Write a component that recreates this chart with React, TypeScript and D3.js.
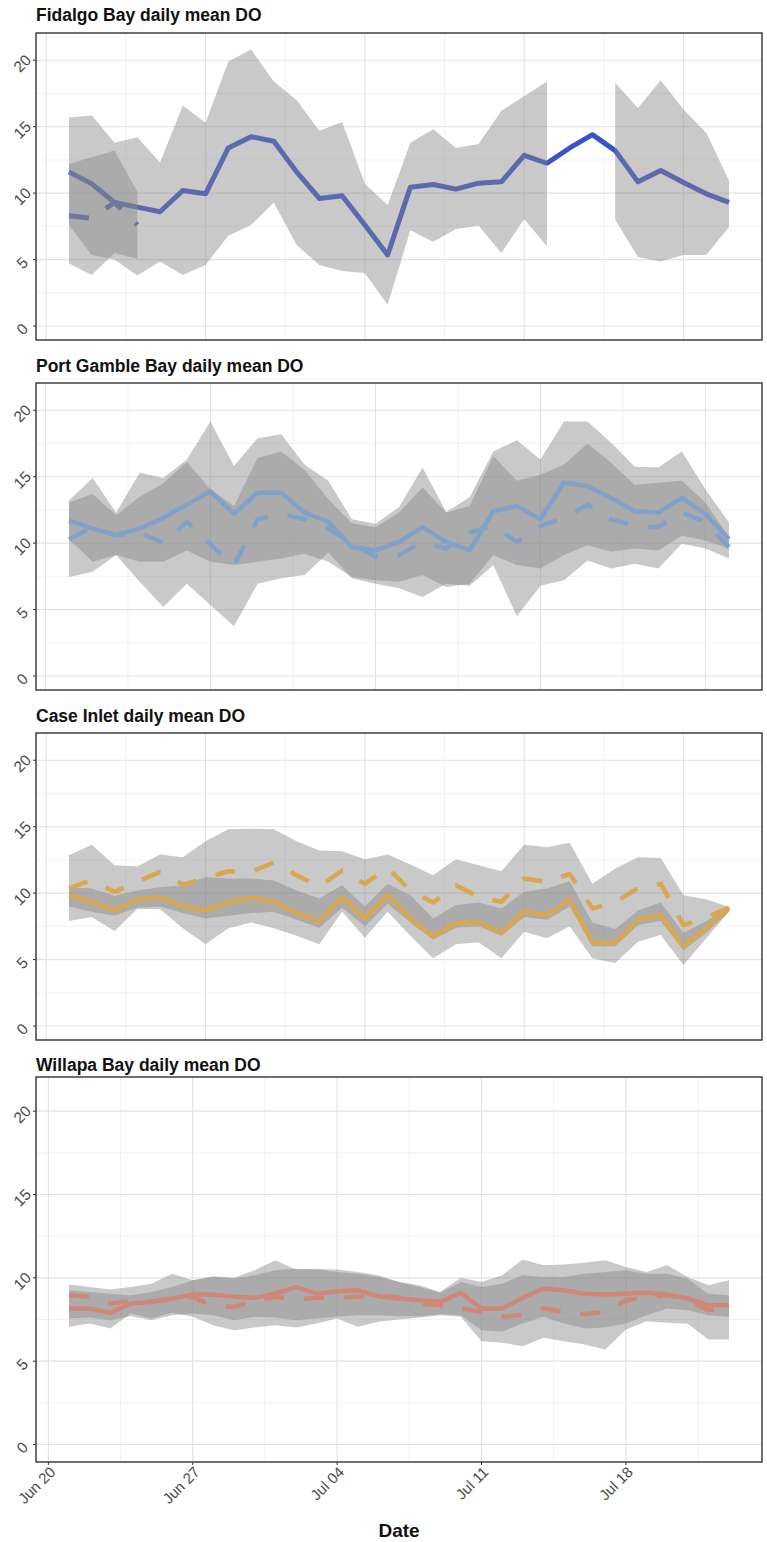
import React from "react";
import * as d3 from "d3";

// daily series start on Jun 21
const START = Date.UTC(2022, 5, 21);
const DAY = 864e5;

const Y_LIMITS = [0, 21];
const Y_MAJOR = [0, 5, 10, 15, 20];
const Y_MINOR = [2.5, 7.5, 12.5, 17.5];
const X_MAJOR = ["2022-06-20", "2022-06-27", "2022-07-04", "2022-07-11", "2022-07-18"];

// Fidalgo Bay (Jun 21 - Jul 20)
const fidalgoMean = [11.6, 10.7, 9.3, 8.95, 8.6, 10.2, 9.95, 13.4, 14.25, 13.9, 11.6, 9.6, 9.8, 7.6, 5.35,
  10.45, 10.65, 10.3, 10.75, 10.85, 12.85, 12.25, 13.4, 14.4, 13.2, 10.85, 11.7, 10.8, 9.95, 9.3];
const fidalgoHi = [15.7, 15.85, 13.8, 14.2, 12.3, 16.6, 15.3, 19.9, 20.8, 18.4, 17.0, 14.7, 15.35, 10.7, 9.1,
  13.8, 14.8, 13.4, 13.7, 16.2, 17.3, 18.4, null, null, 18.3, 16.4, 18.5, 16.3, 14.55, 10.95];
const fidalgoLo = [7.6, 5.35, 5.0, 3.8, 4.85, 3.85, 4.6, 6.8, 7.6, 9.3, 6.1, 4.6, 4.15, 4.0, 1.6,
  7.2, 6.35, 7.3, 7.55, 5.5, 8.05, 6.0, null, null, 8.0, 5.2, 4.85, 5.35, 5.35, 7.45];
const fidalgoMean2 = [8.3, 8.1, 9.3, 7.6];
const fidalgoHi2 = [12.2, 12.7, 13.2, 10.1];
const fidalgoLo2 = [4.7, 3.85, 5.5, 5.05];

// Port Gamble Bay (Jun 21 - Jul 19)
const gambleSolid = [11.7, 11.1, 10.6, 11.1, 11.9, 12.9, 13.9, 12.2, 13.8, 13.8, 12.3, 11.6, 9.7, 9.45, 10.1,
  11.2, 10.1, 9.45, 12.4, 12.8, 11.8, 14.55, 14.3, 13.4, 12.4, 12.3, 13.4, 12.2, 10.3];
const gambleDashed = [10.3, 11.2, 10.6, 10.8, 10.0, 11.6, 9.9, 8.3, 11.8, 12.2, 11.8, 11.1, 10.0, 9.0, 9.1,
  10.1, 9.6, 10.8, 11.3, 10.1, 11.3, 11.9, 12.9, 11.8, 11.3, 11.2, 12.3, 11.6, 9.7];
const gambleHiA = [13.2, 14.9, 12.3, 15.3, 14.9, 16.3, 19.15, 15.8, 17.9, 18.2, 15.9, 14.7, 11.8, 11.45, 12.7,
  15.7, 12.35, 13.45, 16.9, 17.75, 16.3, 19.15, 19.15, 17.55, 15.75, 15.7, 16.9, 14.05, 11.55];
const gambleLoA = [7.45, 7.85, 9.1, 7.1, 5.2, 6.95, 5.35, 3.75, 6.95, 7.35, 7.6, 9.3, 7.35, 6.95, 6.6,
  5.95, 6.95, 6.8, 8.35, 4.5, 6.8, 7.2, 8.7, 8.1, 8.45, 8.1, 9.95, 9.6, 8.85];
const gambleHiB = [13.05, 13.7, 12.1, 13.5, 14.5, 16.1, 14.05, 12.8, 16.4, 16.9, 15.5, 13.3, 11.5, 11.2, 12.3,
  14.2, 12.3, 12.8, 16.55, 14.7, 15.15, 15.9, 17.5, 16.05, 14.4, 14.55, 14.7, 13.05, 10.45];
const gambleLoB = [10.3, 8.6, 9.1, 8.6, 8.6, 9.45, 8.6, 8.35, 8.6, 8.85, 9.2, 8.6, 7.45, 7.2, 7.1,
  7.6, 6.7, 6.95, 9.1, 8.35, 8.1, 9.1, 9.85, 9.35, 9.6, 9.45, 10.55, 10.2, 9.6];

// Case Inlet (Jun 21 - Jul 20)
const caseSolid = [9.85, 9.35, 8.7, 9.5, 9.7, 9.0, 8.7, 9.3, 9.65, 9.35, 8.5, 7.9, 9.7, 8.1, 9.85,
  8.1, 6.75, 7.75, 7.8, 7.0, 8.6, 8.35, 9.5, 6.25, 6.25, 8.0, 8.35, 6.0, 7.35, 8.9];
const caseDashed = [10.35, 11.0, 10.1, 10.85, 11.6, 10.65, 11.1, 11.65, 11.6, 12.3, 11.35, 10.5, 11.7, 10.7, 11.9,
  10.2, 9.3, 10.6, 9.7, 9.35, 11.1, 10.85, 11.45, 8.85, 9.3, 10.4, 10.7, 7.6, 8.2, 8.9];
const caseHiA = [12.85, 13.65, 12.1, 12.0, 12.9, 12.7, 13.9, 14.8, 14.85, 14.8, 13.9, 13.2, 13.15, 12.55, 12.9,
  12.15, 11.35, 12.55, 12.1, 11.65, 13.65, 13.45, 13.8, 10.7, 11.85, 12.7, 12.65, 9.85, 9.55, 8.95];
const caseLoA = [7.9, 8.2, 7.15, 8.8, 8.8, 7.35, 6.15, 7.35, 7.8, 7.35, 6.8, 6.15, 8.6, 6.65, 8.6,
  6.8, 5.1, 6.15, 6.3, 5.1, 7.1, 6.6, 7.5, 5.1, 4.75, 6.35, 6.85, 4.6, 6.6, 8.6];
const caseHiB = [10.45, 10.35, 9.8, 10.2, 10.45, 10.6, 11.2, 11.1, 11.1, 10.95, 10.2, 9.6, 10.6, 9.0, 10.7,
  9.85, 8.1, 9.1, 9.3, 8.85, 10.1, 10.35, 10.9, 7.8, 7.3, 8.7, 9.3, 7.0, 7.9, 8.9];
const caseLoB = [9.0, 8.6, 8.3, 8.9, 9.0, 8.5, 8.1, 8.3, 8.5, 8.6, 8.0, 7.4, 8.9, 7.5, 9.2,
  7.8, 6.5, 7.4, 7.5, 6.8, 8.2, 8.0, 9.0, 6.0, 6.0, 7.6, 7.9, 5.7, 7.0, 8.6];

// Willapa Bay (Jun 21 - Jul 23)
const willapaSolid = [8.16, 8.16, 7.9, 8.46, 8.56, 8.76, 9.0, 9.0, 8.86, 8.8, 9.05, 9.45, 9.05, 9.2, 9.25, 8.9, 8.76,
  8.66, 8.56, 9.1, 8.16, 8.16, 8.8, 9.35, 9.25, 9.05, 9.0, 9.05, 9.1, 9.0, 8.76, 8.36, 8.36];
const willapaDashed = [8.96, 8.86, 8.46, 8.6, 8.56, 8.7, 8.86, 8.3, 8.26, 8.6, 8.86, 8.7, 8.8, 8.8, 8.86, 8.96, 8.8,
  8.46, 8.36, 8.16, 7.96, 7.66, 7.76, 8.16, 7.96, 7.82, 7.96, 8.66, 8.86, 8.96, 8.66, 8.06, 8.26];
const willapaHiA = [9.6, 9.45, 9.3, 9.45, 9.65, 10.25, 9.85, 10.1, 10.0, 10.45, 11.05, 10.5, 10.55, 10.5, 10.35, 10.15, 9.75,
  9.55, 9.15, 10.0, 9.75, 10.15, 11.1, 10.75, 10.8, 10.9, 11.05, 10.65, 10.35, 10.75, 10.05, 9.55, 9.85];
const willapaLoA = [7.06, 7.26, 6.96, 7.86, 7.56, 7.9, 7.66, 7.16, 6.86, 7.02, 7.16, 7.02, 7.26, 7.56, 7.06, 7.36, 7.5,
  7.62, 7.76, 7.66, 6.2, 6.1, 5.9, 6.4, 6.2, 6.0, 5.7, 6.9, 7.4, 7.3, 7.25, 6.3, 6.3];
const willapaHiB = [9.25, 9.15, 9.05, 8.96, 9.15, 9.45, 9.85, 10.05, 9.95, 10.15, 10.45, 10.55, 10.5, 10.35, 10.25, 10.05, 9.75,
  9.45, 9.1, 9.75, 9.45, 9.65, 10.15, 10.05, 10.05, 10.25, 10.35, 10.45, 10.25, 10.25, 9.95, 9.05, 8.96];
const willapaLoB = [7.56, 7.62, 7.46, 7.7, 7.46, 7.76, 7.86, 7.76, 7.46, 7.66, 7.62, 7.46, 7.56, 7.66, 7.76, 7.76, 7.7,
  7.7, 7.82, 7.76, 6.86, 6.77, 7.26, 7.66, 7.26, 6.96, 7.02, 7.26, 7.76, 8.16, 8.06, 7.76, 7.66];

const W = 767;
const H = 1542;
const LEFT = 36;
const RIGHT = 762;
const FONT = "'Liberation Sans', Arial, sans-serif";
const RIBBON = "#888888";

const panels = [
  { title: "Fidalgo Bay daily mean DO", titleY: 21, top: 33, bottom: 340, n: 30, color: "#3853cc", width: 5,
    linesUnder: true,
    lines: [{ v: fidalgoMean, dash: false }, { v: fidalgoMean2, dash: true }],
    ribbons: [{ hi: fidalgoHi, lo: fidalgoLo }, { hi: fidalgoHi2, lo: fidalgoLo2 }] },
  { title: "Port Gamble Bay daily mean DO", titleY: 372, top: 383, bottom: 690, n: 29, color: "#80a2ca", width: 4.5,
    linesUnder: false,
    lines: [{ v: gambleSolid, dash: false }, { v: gambleDashed, dash: true }],
    ribbons: [{ hi: gambleHiA, lo: gambleLoA }, { hi: gambleHiB, lo: gambleLoB }] },
  { title: "Case Inlet daily mean DO", titleY: 722, top: 733, bottom: 1040, n: 30, color: "#d9a74f", width: 4.5,
    linesUnder: false,
    lines: [{ v: caseSolid, dash: false }, { v: caseDashed, dash: true }],
    ribbons: [{ hi: caseHiA, lo: caseLoA }, { hi: caseHiB, lo: caseLoB }] },
  { title: "Willapa Bay daily mean DO", titleY: 1071, top: 1077, bottom: 1462, n: 33, color: "#cf8878", width: 4.5,
    linesUnder: false, xAxis: true,
    lines: [{ v: willapaSolid, dash: false }, { v: willapaDashed, dash: true }],
    ribbons: [{ hi: willapaHiA, lo: willapaLoA }, { hi: willapaHiB, lo: willapaLoB }] },
];

const fmt = d3.utcFormat("%b %d");

function Panel({ p, idx }: any) {
  const span = (p.n - 1) * DAY;
  const x = d3.scaleUtc()
    .domain([new Date(START - 0.05 * span), new Date(START + span + 0.05 * span)])
    .range([LEFT, RIGHT]);
  const yPad = (Y_LIMITS[1] - Y_LIMITS[0]) * 0.05;
  const y = d3.scaleLinear().domain([Y_LIMITS[0] - yPad, Y_LIMITS[1] + yPad]).range([p.bottom, p.top]);
  const date = (i: number) => new Date(START + i * DAY);

  const majors = X_MAJOR.map((s) => new Date(s + "T00:00:00Z"));
  const [d0, d1] = x.domain();
  const minors: Date[] = [];
  majors.forEach((m) => {
    [-3.5, 3.5].forEach((o) => {
      const t = new Date(+m + o * DAY);
      if (t >= d0 && t <= d1 && !minors.some((q) => +q === +t)) minors.push(t);
    });
  });

  const line = d3.line<any>().defined((d) => d != null).x((_d, i) => x(date(i))).y((d) => y(d));
  const area = d3.area<any>()
    .defined((d) => d.hi != null && d.lo != null)
    .x((d) => x(date(d.i)))
    .y0((d) => y(d.lo))
    .y1((d) => y(d.hi));

  const clip = `clip${idx}`;
  const lines = p.lines.map((l: any, k: number) => (
    <path key={"l" + k} d={line(l.v) || ""} fill="none" stroke={p.color} strokeWidth={p.width}
      strokeDasharray={l.dash ? "20 20" : undefined} strokeLinejoin="round" />
  ));
  const ribbons = p.ribbons.map((r: any, k: number) => (
    <path key={"r" + k} d={area(r.hi.map((h: any, i: number) => ({ i, hi: h, lo: r.lo[i] }))) || ""}
      fill={RIBBON} fillOpacity={0.45} stroke="none" />
  ));

  return (
    <g>
      <text x={LEFT} y={p.titleY} fontFamily={FONT} fontWeight="bold" fontSize={17.5} fill="#111">{p.title}</text>
      <defs>
        <clipPath id={clip}><rect x={LEFT} y={p.top} width={RIGHT - LEFT} height={p.bottom - p.top} /></clipPath>
      </defs>
      <rect x={LEFT} y={p.top} width={RIGHT - LEFT} height={p.bottom - p.top} fill="#fff" />
      <g clipPath={`url(#${clip})`}>
        {Y_MINOR.map((v) => (
          <line key={"ym" + v} x1={LEFT} x2={RIGHT} y1={y(v)} y2={y(v)} stroke="#efefef" strokeWidth={0.8} />
        ))}
        {minors.map((t) => (
          <line key={"xm" + +t} x1={x(t)} x2={x(t)} y1={p.top} y2={p.bottom} stroke="#efefef" strokeWidth={0.8} />
        ))}
        {Y_MAJOR.map((v) => (
          <line key={"yM" + v} x1={LEFT} x2={RIGHT} y1={y(v)} y2={y(v)} stroke="#e2e2e2" strokeWidth={1.1} />
        ))}
        {majors.map((t) => (
          <line key={"xM" + +t} x1={x(t)} x2={x(t)} y1={p.top} y2={p.bottom} stroke="#e2e2e2" strokeWidth={1.1} />
        ))}
        {p.linesUnder ? lines : ribbons}
        {p.linesUnder ? ribbons : lines}
      </g>
      <rect x={LEFT} y={p.top} width={RIGHT - LEFT} height={p.bottom - p.top} fill="none" stroke="#333" strokeWidth={1.4} />
      {Y_MAJOR.map((v) => (
        <g key={"yt" + v}>
          <line x1={LEFT - 3} x2={LEFT} y1={y(v)} y2={y(v)} stroke="#333" strokeWidth={1} />
          <text transform={`translate(26,${y(v) + 7}) rotate(-45)`} textAnchor="middle" fontFamily={FONT}
            fontSize={15.5} fill="#4d4d4d">{v}</text>
        </g>
      ))}
      {p.xAxis && majors.map((t) => (
        <g key={"xt" + +t}>
          <line x1={x(t)} x2={x(t)} y1={p.bottom} y2={p.bottom + 3} stroke="#333" strokeWidth={1} />
          <text transform={`translate(${x(t) + 8},${p.bottom + 11}) rotate(-45)`} textAnchor="end"
            fontFamily={FONT} fontSize={15} fill="#4d4d4d">{fmt(t)}</text>
        </g>
      ))}
      {p.xAxis && (
        <text x={(LEFT + RIGHT) / 2} y={1537} textAnchor="middle" fontFamily={FONT} fontWeight="bold"
          fontSize={19} fill="#111">Date</text>
      )}
    </g>
  );
}

export default function App() {
  return (
    <div>
      <style>{`body{margin:0}`}</style>
      <svg width={W} height={H} style={{ display: "block", background: "#fff" }}>
        {panels.map((p, i) => <Panel key={i} p={p} idx={i} />)}
      </svg>
    </div>
  );
}
